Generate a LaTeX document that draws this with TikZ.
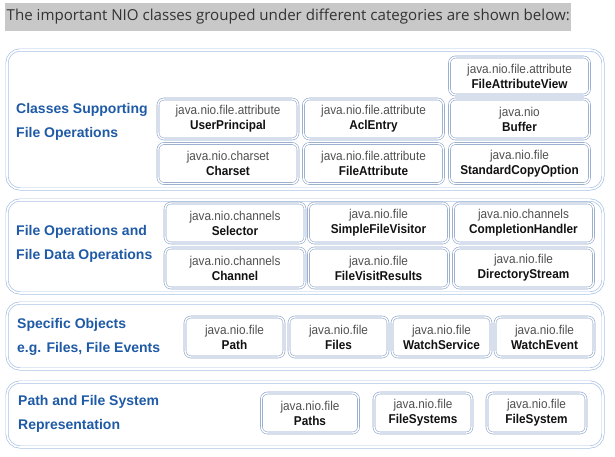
\documentclass[tikz,border=0pt]{standalone}
\usepackage{fontspec}
\setmainfont{Liberation Sans}
\newfontfamily\hdrfont{Open Sans}
\newfontfamily\boxfont[FakeStretch=0.92]{Liberation Sans}
\definecolor{panelline}{HTML}{A9C2E4}
\definecolor{boxline}{HTML}{8EA5CA}
\definecolor{pkggray}{HTML}{505050}
\definecolor{clsblack}{HTML}{111111}
\definecolor{labelblue}{HTML}{1F5AA6}
\definecolor{hdrgray}{HTML}{C8C8C8}
\definecolor{hdrtext}{HTML}{333333}
\newcommand{\pkgname}[1]{{\color{pkggray}#1}}
\newcommand{\clsname}[1]{{\bfseries\color{clsblack}#1}}
\begin{document}
\begin{tikzpicture}[x=1pt,y=-1pt,
  panel/.style={draw=panelline, double=white, line width=0.7pt, double distance=1.6pt,
    rounded corners=13pt, inner sep=0pt},
  clsbox/.style={draw=boxline, double=white, line width=0.6pt, double distance=1.4pt,
    rounded corners=6pt, fill=white, inner sep=0pt, align=center,
    font=\boxfont\fontsize{12.8}{15}\selectfont},
  w140/.style={clsbox, minimum width=140pt, minimum height=40pt},
  w99/.style={clsbox, minimum width=99pt, minimum height=40pt},
  grouplabel/.style={anchor=west, align=left, inner sep=0pt, text=labelblue,
    font=\fontsize{14}{24}\selectfont\bfseries},
]
\useasboundingbox (0,0) rectangle (615,456);
\fill[white] (0,0) rectangle (615,456);

% heading line
\node[anchor=west, fill=hdrgray, inner xsep=1.5pt, minimum height=28pt,
  text=hdrtext, font=\hdrfont\fontsize{15.1}{17}\selectfont] (hdr) at (5,17)
  {The important NIO classes grouped under different categories are shown below:};

% group panels
\node[panel, minimum width=596pt, minimum height=139pt] (p1) at (305,119.5) {};
\node[panel, minimum width=596pt, minimum height=93pt]  (p2) at (305,246.5) {};
\node[panel, minimum width=596pt, minimum height=66pt]  (p3) at (305,336) {};
\node[panel, minimum width=596pt, minimum height=65pt]  (p4) at (305,414.5) {};

% group titles
\node[grouplabel] (l1) at (16,122) {Classes Supporting\\File Operations};
\node[grouplabel] (l2) at (16,244) {File Operations and\\File Data Operations};
\node[grouplabel] (l3) at (17,337) {Specific Objects\\e.g. Files, File Events};
\node[grouplabel] (l4) at (18,414) {Path and File System\\Representation};

% classes supporting file operations
\node[w140, minimum height=38pt] (fav) at (519.5,76)
  {\pkgname{java.nio.file.attribute}\\\clsname{FileAttributeView}};
\node[w140] (up)  at (228,119)   {\pkgname{java.nio.file.attribute}\\\clsname{UserPrincipal}};
\node[w140] (acl) at (373.5,119) {\pkgname{java.nio.file.attribute}\\\clsname{AclEntry}};
\node[w140] (buf) at (519.5,119) {\pkgname{java.nio}\\\clsname{Buffer}};
\node[w140] (cs)  at (228,163.5)   {\pkgname{java.nio.charset}\\\clsname{Charset}};
\node[w140] (fa)  at (373.5,163.5) {\pkgname{java.nio.file.attribute}\\\clsname{FileAttribute}};
\node[w140] (sco) at (519.5,163.5) {\pkgname{java.nio.file}\\\clsname{StandardCopyOption}};

% file operations and file data operations
\node[w140] (sel)  at (235,223)   {\pkgname{java.nio.channels}\\\clsname{Selector}};
\node[w140] (sfv)  at (378.5,223) {\pkgname{java.nio.file}\\\clsname{SimpleFileVisitor}};
\node[w140] (ch)   at (523.5,223) {\pkgname{java.nio.channels}\\\clsname{CompletionHandler}};
\node[w140] (chan) at (235,268)   {\pkgname{java.nio.channels}\\\clsname{Channel}};
\node[w140] (fvr)  at (378.5,268) {\pkgname{java.nio.file}\\\clsname{FileVisitResults}};
\node[w140] (ds)   at (523.5,268) {\pkgname{java.nio.file}\\\clsname{DirectoryStream}};

% specific objects
\node[w99] (path)  at (234.5,337) {\pkgname{java.nio.file}\\\clsname{Path}};
\node[w99] (files) at (338.5,337) {\pkgname{java.nio.file}\\\clsname{Files}};
\node[w99] (ws)    at (441.5,337) {\pkgname{java.nio.file}\\\clsname{WatchService}};
\node[w99] (we)    at (544.5,337) {\pkgname{java.nio.file}\\\clsname{WatchEvent}};

% path and file system representation
\node[w99, minimum width=97pt] (paths) at (310,413)   {\pkgname{java.nio.file}\\\clsname{Paths}};
\node[w99, minimum width=98pt] (fss)   at (423,413)   {\pkgname{java.nio.file}\\\clsname{FileSystems}};
\node[w99, minimum width=99pt] (fs)    at (536.5,413) {\pkgname{java.nio.file}\\\clsname{FileSystem}};
\end{tikzpicture}
\end{document}
